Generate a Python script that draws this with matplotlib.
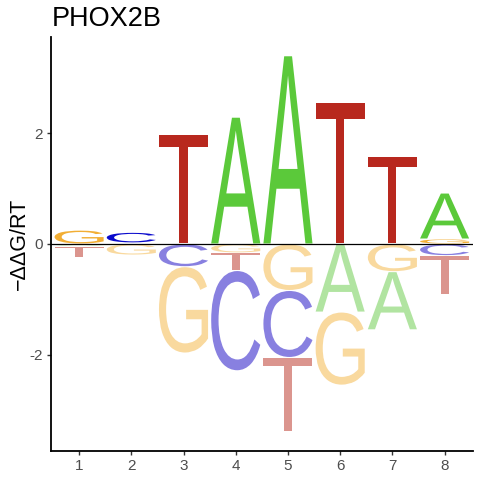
import matplotlib
matplotlib.use("Agg")
import matplotlib.pyplot as plt
from matplotlib.textpath import TextPath
from matplotlib.font_manager import FontProperties
from matplotlib.patches import PathPatch
from matplotlib.transforms import Affine2D

# Data: -ddG/RT per letter and position
positions = [1, 2, 3, 4, 5, 6, 7, 8]
A_vals = [-0.04, 0.00, 0.00, 2.29, 3.40, -1.23, -1.05, 0.83]
C_vals = [0.00, 0.19, -0.41, -1.81, -1.21, 0.00, 0.00, -0.21]
G_vals = [0.25, -0.20, -1.56, -0.16, -0.84, -1.32, -0.50, 0.09]
T_vals = [-0.21, 0.02, 1.97, -0.32, -1.34, 2.55, 1.58, -0.71]
yticks = [-2, 0, 2]
ytick_labels = ["-2", "0", "2"]
title = "PHOX2B"
ylabel = "\u2212\u0394\u0394G/RT"

pos_colors = {"A": "#5BC93A", "C": "#0A0ACC", "G": "#F2AE34", "T": "#B8281E"}
neg_colors = {"A": "#B1E4A1", "C": "#8880E0", "G": "#F9D99E", "T": "#DB958E"}

fp = FontProperties(family="Liberation Sans")


def letter_path(ch, x0, x1, y0, y1):
    tp = TextPath((0, 0), ch, size=1, prop=fp)
    bb = tp.get_extents()
    t = (Affine2D().translate(-bb.x0, -bb.y0)
         .scale((x1 - x0) / bb.width, (y1 - y0) / bb.height)
         .translate(x0, y0))
    return t.transform_path(tp)


fig = plt.figure(figsize=(4.8, 4.8), dpi=100)
ax = fig.add_axes([0.106, 0.0604, 0.879, 0.8626])

letters = {"A": A_vals, "C": C_vals, "G": G_vals, "T": T_vals}
width = 0.94
gap = 0.009
for i, p in enumerate(positions):
    vals = [(ch, letters[ch][i]) for ch in "ACGT"]
    pos = sorted([v for v in vals if v[1] > 0], key=lambda v: v[1])
    neg = sorted([v for v in vals if v[1] < 0], key=lambda v: -v[1])
    base = 0.0
    for ch, v in pos:
        y0, y1 = base, base + v
        if y1 - y0 > 2 * gap:
            path = letter_path(ch, p - width / 2, p + width / 2, y0 + gap, y1 - gap)
            ax.add_patch(PathPatch(path, facecolor=pos_colors[ch], edgecolor="none", lw=0))
        base = y1
    base = 0.0
    for ch, v in neg:
        y1, y0 = base, base + v
        if y1 - y0 > 2 * gap:
            path = letter_path(ch, p - width / 2, p + width / 2, y0 + gap, y1 - gap)
            ax.add_patch(PathPatch(path, facecolor=neg_colors[ch], edgecolor="none", lw=0))
        base = y0

ax.axhline(0, color="black", lw=0.9, zorder=3)

ax.set_xlim(0.46, 8.54)
ax.set_ylim(-3.74, 3.74)
ax.set_xticks(positions)
ax.set_xticklabels([str(p) for p in positions])
ax.set_yticks(yticks)
ax.set_yticklabels(ytick_labels)

for s in ["top", "right"]:
    ax.spines[s].set_visible(False)
for s in ["left", "bottom"]:
    ax.spines[s].set_linewidth(1.3)
    ax.spines[s].set_color("black")
ax.tick_params(axis="both", length=3, width=1.0, color="#333333",
               labelsize=11, labelcolor="#4D4D4D", pad=3)
for lab in ax.get_xticklabels() + ax.get_yticklabels():
    lab.set_family("Liberation Sans")

ax.set_ylabel(ylabel, fontsize=15.5, family=["Liberation Sans", "DejaVu Sans"], labelpad=-1)
fig.text(0.108, 0.945, title, fontsize=19.5, family="Liberation Sans", ha="left", va="baseline")

fig.savefig("out.png", dpi=100)
